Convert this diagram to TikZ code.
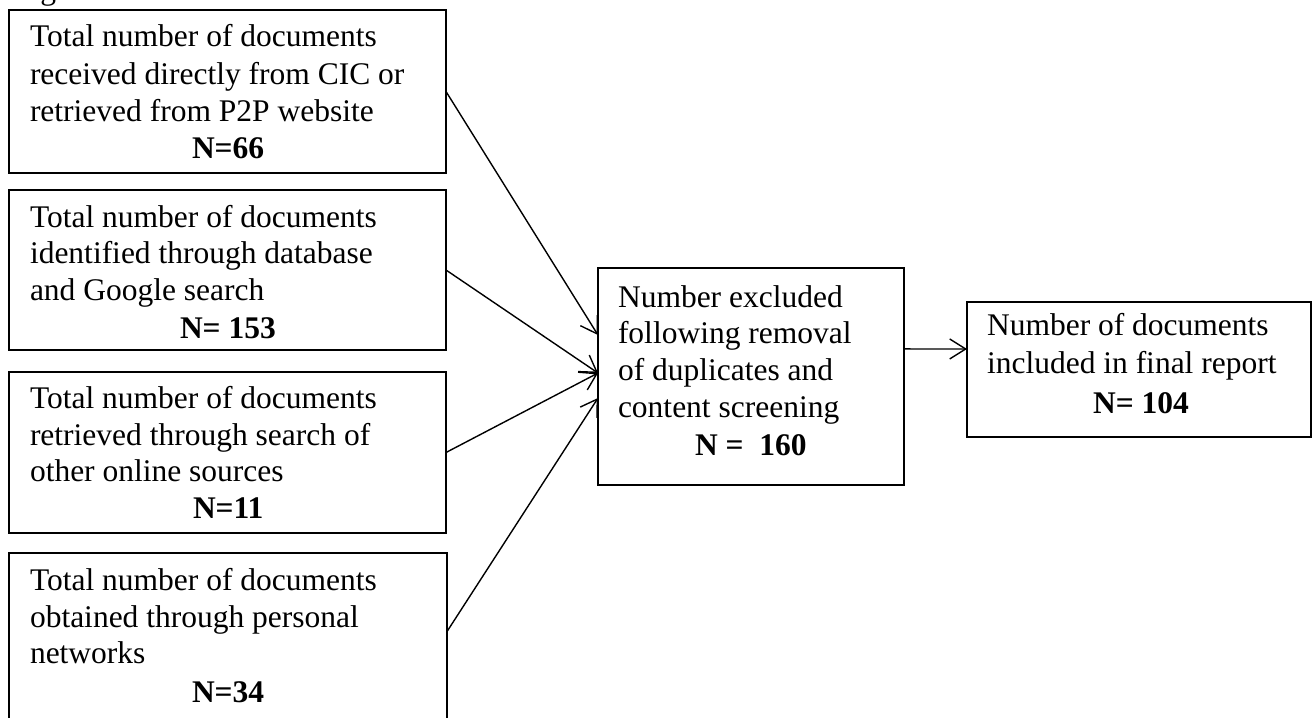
\documentclass[tikz,border=0pt]{standalone}
\usepackage{fontspec}
\setmainfont{Liberation Serif}
\usetikzlibrary{calc,arrows.meta}
\tikzset{
  box/.style={draw, line width=1.3pt, inner sep=0pt, outer sep=0pt, anchor=north west, rectangle},
  txt/.style={anchor=base west, inner sep=0pt, outer sep=0pt, font=\fontsize{31.5}{37}\selectfont},
  ntxt/.style={txt, font=\fontsize{31.5}{37}\selectfont\bfseries},
  arr/.style={line width=1.4pt, -{Straight Barb[length=16pt,width=20pt,line width=1.4pt]}}
}
\begin{document}
\begin{tikzpicture}[x=1pt,y=-1pt]
\useasboundingbox (0,0) rectangle (1313,717);
\clip (0,0) rectangle (1313,717);
\fill[white] (0,0) rectangle (1313,717);

% caption fragment at the top edge
\node[txt] (cap) at (14,0) {Figure};

% boxes
\node[box, minimum width=437pt, minimum height=163pt] (b1) at (9,10) {};
\node[box, minimum width=437pt, minimum height=160pt] (b2) at (9,190) {};
\node[box, minimum width=437pt, minimum height=161pt] (b3) at (9,372) {};
\node[box, minimum width=438pt, minimum height=187pt] (b4) at (9,553) {};
\node[box, minimum width=306pt, minimum height=217pt] (mid) at (598,268) {};
\node[box, minimum width=344pt, minimum height=135pt] (rb) at (967,302) {};

% box 1 text
\node[txt] (b1a) at (30,46.5) {Total number of documents};
\node[txt] (b1b) at (30,84) {received directly from CIC or};
\node[txt] (b1c) at (30,121) {retrieved from P2P website};
\node[ntxt] (b1n) at (192,158) {N=66};

% box 2 text
\node[txt] (b2a) at (30,227) {Total number of documents};
\node[txt] (b2b) at (30,263.5) {identified through database};
\node[txt] (b2c) at (30,300) {and Google search};
\node[ntxt] (b2n) at (180,338) {N= 153};

% box 3 text
\node[txt] (b3a) at (30,408) {Total number of documents};
\node[txt] (b3b) at (30,445) {retrieved through search of};
\node[txt] (b3c) at (30,481) {other online sources};
\node[ntxt] (b3n) at (193,518) {N=11};

% box 4 text
\node[txt] (b4a) at (30,590) {Total number of documents};
\node[txt] (b4b) at (30,627) {obtained through personal};
\node[txt] (b4c) at (30,663) {networks};
\node[ntxt] (b4n) at (192,702) {N=34};

% middle box text
\node[txt] (ma) at (618,307) {Number excluded};
\node[txt] (mb) at (618,343.5) {following removal};
\node[txt] (mc) at (618,380) {of duplicates and};
\node[txt] (md) at (618,417) {content screening};
\node[ntxt] (mn) at (695,455) {N =\ \ 160};

% right box text
\node[txt] (ra) at (987,335) {Number of documents};
\node[txt] (rbb) at (987,373) {included in final report};
\node[ntxt] (rn) at (1093,413) {N= 104};

% connectors
\draw[arr] (b1.east) -- ($(mid.north west)!0.309!(mid.south west)$);
\draw[arr] (b2.east) -- ($(mid.north west)!0.484!(mid.south west)$);
\draw[arr] (b3.east) -- ($(mid.north west)!0.484!(mid.south west)$);
\draw[arr] ($(b4.north east)!0.42!(b4.south east)$) -- ($(mid.north west)!0.599!(mid.south west)$);
\draw[arr] ($(mid.north east)!0.373!(mid.south east)$) -- ($(rb.north west)!0.348!(rb.south west)$);
\end{tikzpicture}
\end{document}
